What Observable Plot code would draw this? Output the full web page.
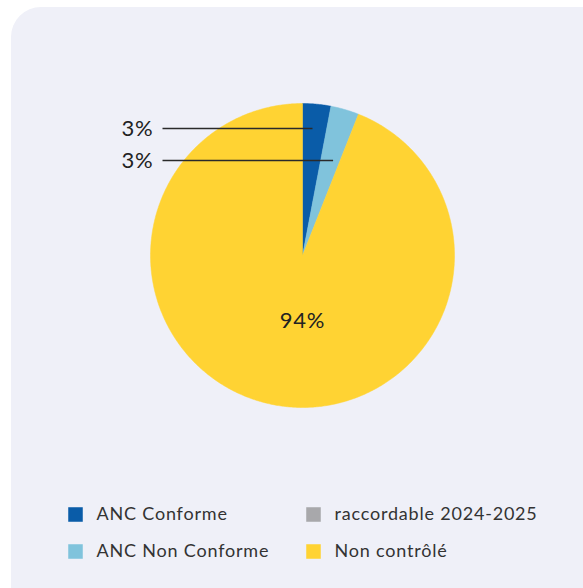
<!DOCTYPE html>
<html>
<head>
<meta charset="utf-8">
<script src="https://cdn.jsdelivr.net/npm/d3@7"></script>
<script src="https://cdn.jsdelivr.net/npm/@observablehq/plot@0.6"></script>
<style>
  html, body { margin: 0; padding: 0; background: #ffffff; overflow: hidden; }
  #wrap { position: relative; width: 583px; height: 588px; overflow: hidden; }
  #panel { position: absolute; left: 11px; top: 7px; width: 640px; height: 640px;
           border-radius: 30px; background: #eff0f8; }
  #chart { position: absolute; left: 0; top: 0; }
  #chart svg text { letter-spacing: 0.8px; }
</style>
</head>
<body>
<div id="wrap"><div id="panel"></div><div id="chart"></div></div>
<script>
// Data
const categories = ["ANC Conforme", "ANC Non Conforme", "raccordable 2024-2025", "Non contrôlé"];
const values = [3, 3, 0, 94];
const colors = ["#0a5ca8", "#80c3dc", "#a8a8ab", "#ffd333"];
const legendOrder = ["ANC Conforme", "raccordable 2024-2025", "ANC Non Conforme", "Non contrôlé"];

// Layout
const W = 583, H = 588;
const cx = 302, cy = 255, R = 152;
const font = "Lato, 'Open Sans', sans-serif";

const arcs = d3.pie().sort(null).startAngle(0).endAngle(2 * Math.PI)(values);
const pt = (a, r) => [cx + r * Math.sin(a), cy - r * Math.cos(a)];

// polygons for slices
const poly = [];
arcs.forEach((a, i) => {
  if (a.endAngle - a.startAngle <= 0) return;
  const [x0, y0] = pt(0, 0);
  poly.push({cat: categories[i], x: x0, y: y0});
  const n = Math.max(2, Math.ceil((a.endAngle - a.startAngle) / (Math.PI / 360)));
  for (let k = 0; k <= n; k++) {
    const ang = a.startAngle + (a.endAngle - a.startAngle) * k / n;
    const [x, y] = pt(ang, R);
    poly.push({cat: categories[i], x, y});
  }
  poly.push({cat: categories[i], x: x0, y: y0});
});

// outside labels for small slices
const labelY = [128, 160];
const endShift = [-2, 3];
const outside = [];
const inside = [];
arcs.forEach((a, i) => {
  if (values[i] <= 0) return;
  const mid = (a.startAngle + a.endAngle) / 2;
  if (values[i] < 10) {
    const k = outside.length;
    const yy = labelY[k];
    const dy = cy - yy;
    const xe = cx + dy * Math.tan(mid) + endShift[k];
    outside.push({label: values[i] + "%", y: yy, x1: 162, x2: xe, tx: 153});
  } else {
    inside.push({label: values[i] + "%", x: cx, y: 320});
  }
});

const legend = legendOrder.map((c, i) => ({
  cat: c,
  x: (i % 2 === 0) ? 75 : 313,
  y: (i < 2) ? 514 : 551
}));

const chart = Plot.plot({
  width: W, height: H,
  margin: 0,
  x: {domain: [0, W], range: [0, W], axis: null},
  y: {domain: [0, H], range: [0, H], axis: null},
  color: {domain: categories, range: colors},
  style: {background: "transparent", fontFamily: font},
  marks: [
    Plot.line(poly, {x: "x", y: "y", z: "cat", fill: "cat", stroke: "cat", strokeWidth: 0.5, curve: "linear"}),
    Plot.link(outside, {x1: "x1", x2: "x2", y1: "y", y2: "y", stroke: "#2a2a2a", strokeWidth: 1.3}),
    Plot.text(outside, {x: "tx", y: "y", text: "label", textAnchor: "end", fontSize: 22, fill: "#222", fontFamily: font}),
    Plot.text(inside, {x: "x", y: "y", text: "label", fontSize: 22, fill: "#222", fontFamily: font}),
    Plot.dot(legend, {x: "x", y: "y", symbol: "square", r: 8.2, fill: "cat", stroke: null}),
    Plot.text(legend, {x: d => d.x + 21, y: "y", text: "cat", textAnchor: "start", fontSize: 18, fill: "#333", fontFamily: font})
  ]
});
document.getElementById("chart").appendChild(chart);
</script>
</body>
</html>
